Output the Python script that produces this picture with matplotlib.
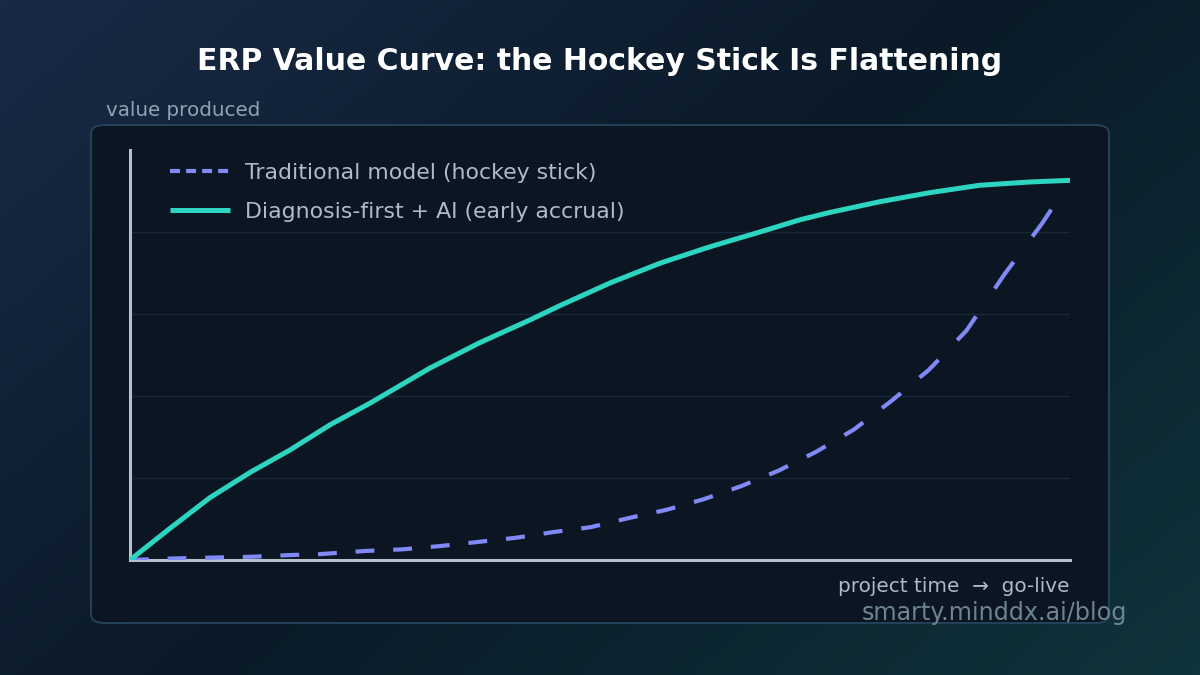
import numpy as np
import matplotlib
matplotlib.use("Agg")
import matplotlib.pyplot as plt
from matplotlib.patches import FancyBboxPatch
from matplotlib.lines import Line2D

# values (x = share of project time, y = value produced)
ai_time = [0.0, 0.043, 0.085, 0.128, 0.17, 0.213, 0.255, 0.319, 0.372, 0.426,
           0.457, 0.511, 0.564, 0.617, 0.67, 0.713, 0.745, 0.798, 0.851,
           0.904, 0.957, 1.0]
ai_value = [0.0, 0.39, 0.76, 1.07, 1.34, 1.65, 1.91, 2.34, 2.65, 2.93,
            3.1, 3.38, 3.62, 3.82, 4.0, 4.15, 4.24, 4.37, 4.48,
            4.57, 4.61, 4.63]

trad_time = [0.0, 0.05, 0.09, 0.13, 0.17, 0.2, 0.25, 0.29, 0.33, 0.37, 0.41,
             0.45, 0.49, 0.53, 0.57, 0.61, 0.65, 0.69, 0.73, 0.77, 0.81,
             0.85, 0.89, 0.93, 0.97, 1.0]
trad_value = [0.0, 0.02, 0.03, 0.04, 0.06, 0.07, 0.11, 0.13, 0.17, 0.22, 0.27,
              0.34, 0.4, 0.51, 0.61, 0.74, 0.9, 1.09, 1.32, 1.59, 1.94,
              2.32, 2.8, 3.48, 4.1, 4.62]

labels = ["Traditional model (hockey stick)", "Diagnosis-first + AI (early accrual)"]

fig = plt.figure(figsize=(12, 6.75), dpi=100)

# background gradient
bg = fig.add_axes([0, 0, 1, 1], zorder=-2)
bg.axis("off")
c1 = np.array([0x19, 0x2a, 0x46]) / 255
c2 = np.array([0x0a, 0x1a, 0x28]) / 255
c3 = np.array([0x10, 0x34, 0x3b]) / 255
xx, yy = np.meshgrid(np.linspace(0, 1, 300), np.linspace(0, 1, 170))
t = (xx * 0.6 + yy * 0.4)
img = np.zeros(xx.shape + (3,))
for k in range(3):
    img[..., k] = np.where(t < 0.5, c1[k] + (c2[k] - c1[k]) * t / 0.5,
                           c2[k] + (c3[k] - c2[k]) * (t - 0.5) / 0.5)
bg.imshow(img, extent=[0, 1, 0, 1], aspect="auto", origin="upper")
bg.set_xlim(0, 1)
bg.set_ylim(0, 1)

# panel
panel = FancyBboxPatch((91 / 1200, (675 - 623) / 675), (1109 - 91) / 1200, (623 - 125) / 675,
                       boxstyle="round,pad=0,rounding_size=0.012",
                       transform=fig.transFigure, facecolor="#0b1622",
                       edgecolor="#26455c", linewidth=1.3, zorder=-1)
fig.patches.append(panel)

ax = fig.add_axes([130 / 1200, 115 / 675, 940 / 1200, 410 / 675])
ax.set_facecolor("none")
ax.set_xlim(0, 1)
ax.set_ylim(0, 5)

# dashed hockey stick: dashes repeat along x (period 0.04, half on)
period = 0.04
tx = np.array(trad_time)
tv = np.array(trad_value)
k = 0
while k * period < 1.0:
    a, b = k * period, min(k * period + period / 2, 1.0)
    inside = (tx > a) & (tx < b)
    sx = np.concatenate([[a], tx[inside], [b]])
    sy = np.interp(sx, tx, tv)
    ax.plot(sx, sy, color="#8089f5", lw=3, solid_capstyle="butt", zorder=3)
    k += 1

ax.plot(ai_time, ai_value, color="#2dd4bf", lw=3.6, zorder=4,
        solid_capstyle="butt")

for g in [1, 2, 3, 4]:
    ax.axhline(g, color="#16293a", lw=1, zorder=1)

for s in ["top", "right"]:
    ax.spines[s].set_visible(False)
for s in ["left", "bottom"]:
    ax.spines[s].set_color("#b4c0cc")
    ax.spines[s].set_linewidth(2.2)
ax.set_xticks([])
ax.set_yticks([])

handles = [Line2D([], [], color="#8089f5", lw=3, dashes=(2.4, 1.45), dash_capstyle="butt"),
           Line2D([], [], color="#2dd4bf", lw=3.6, solid_capstyle="butt")]
ax.legend(handles, labels, loc="upper left", bbox_to_anchor=(40 / 940, 0.968),
          frameon=False, fontsize=15.8, labelcolor="#aebbc8", handlelength=2.75,
          handletextpad=0.65, labelspacing=0.85, borderpad=0, borderaxespad=0)

fig.text(0.5, 1 - 62 / 675, "ERP Value Curve: the Hockey Stick Is Flattening",
         ha="center", va="center", fontsize=21.5, fontweight="bold", color="white")
fig.text(106 / 1200, 1 - 110 / 675, "value produced", ha="left", va="center",
         fontsize=14.3, color="#93a3b3")
fig.text(1070 / 1200, 1 - 587 / 675, "project time  \u2192  go-live", ha="right",
         va="center", fontsize=14.4, color="#aebbc8")
fig.text(1127 / 1200, 1 - 613 / 675, "smarty.minddx.ai/blog", ha="right",
         va="center", fontsize=17.2, color="#6e8494")

fig.savefig("out.png", dpi=100)
